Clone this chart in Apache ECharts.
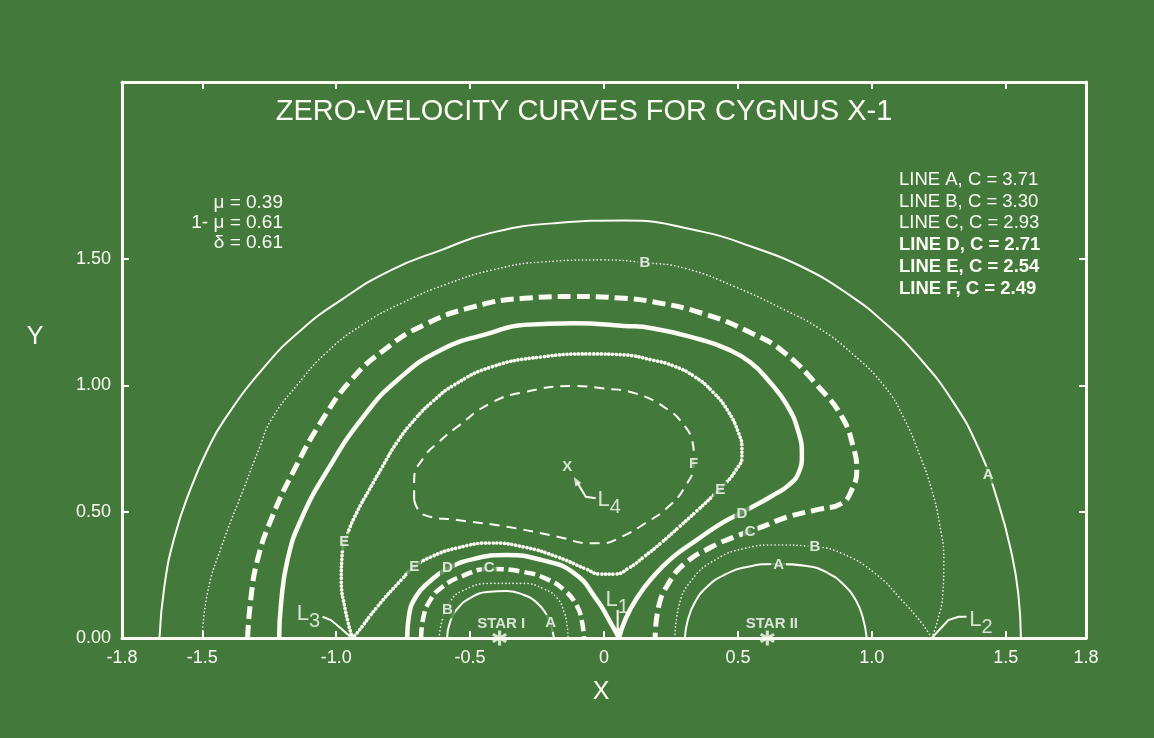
<!DOCTYPE html>
<html>
<head>
<meta charset="utf-8">
<title>Zero-velocity curves for Cygnus X-1</title>
<script src="https://cdn.jsdelivr.net/npm/echarts@6/dist/echarts.min.js"></script>
<style>
html, body { margin: 0; padding: 0; background: #437a3b; }
#main { width: 1154px; height: 738px; }
</style>
</head>
<body>
<div id="main"></div>
<script>
// tick values
var xTickVals = [-1.5, -1.0, -0.5, 0, 0.5, 1.0, 1.5];
var xLabelVals = [-1.8, -1.5, -1.0, -0.5, 0, 0.5, 1.0, 1.5, 1.8];
var yTickVals = [0, 0.5, 1.0, 1.5];

// curves [x, y]
var lineA_outer = [[-1.660,0],[-1.642,0.202],[-1.604,0.400],[-1.541,0.598],[-1.481,0.744],[-1.418,0.863],[-1.269,1.072],[-1.131,1.219],[-0.981,1.338],[-0.795,1.456],[-0.608,1.535],[-0.422,1.603],[-0.175,1.642],[0.075,1.652],[0.366,1.608],[0.552,1.548],[0.739,1.469],[0.925,1.351],[1.050,1.245],[1.174,1.113],[1.299,0.942],[1.398,0.752],[1.473,0.533],[1.522,0.335],[1.547,0.177],[1.557,0]];
var lineA_star2 = [[0.302,0],[0.313,0.071],[0.340,0.142],[0.384,0.202],[0.448,0.249],[0.534,0.281],[0.646,0.293],[0.757,0.285],[0.836,0.257],[0.896,0.210],[0.940,0.150],[0.966,0.083],[0.981,0]];
var lineA_star1 = [[-0.586,0],[-0.575,0.063],[-0.545,0.119],[-0.500,0.158],[-0.437,0.182],[-0.362,0.186],[-0.299,0.170],[-0.250,0.139],[-0.216,0.095],[-0.198,0.051],[-0.187,0]];

var lineB_outer = [[-1.500,0],[-1.481,0.178],[-1.429,0.360],[-1.343,0.598],[-1.287,0.752],[-1.243,0.863],[-1.146,1.001],[-1.034,1.132],[-0.903,1.239],[-0.754,1.326],[-0.586,1.401],[-0.418,1.456],[-0.231,1.488],[-0.007,1.496],[0.153,1.485],[0.302,1.463],[0.489,1.390],[0.675,1.298],[0.802,1.226],[0.925,1.127],[1.049,0.994],[1.123,0.863],[1.179,0.724],[1.224,0.586],[1.254,0.447],[1.269,0.309],[1.265,0.170],[1.246,0.071],[1.224,0]];
var lineB_star2 = [[0.265,0],[0.279,0.124],[0.328,0.230],[0.415,0.309],[0.527,0.355],[0.639,0.368],[0.788,0.361],[0.888,0.335],[1.012,0.256],[1.112,0.150],[1.187,0.058],[1.224,0]];
var lineB_star1 = [[-0.616,0],[-0.604,0.071],[-0.578,0.139],[-0.530,0.186],[-0.422,0.216],[-0.299,0.216],[-0.224,0.194],[-0.175,0.158],[-0.149,0.103],[-0.138,0.051],[-0.134,0]];

var lineC_outer = [[-1.331,0],[-1.318,0.163],[-1.294,0.309],[-1.244,0.467],[-1.157,0.665],[-1.052,0.863],[-0.944,1.021],[-0.821,1.140],[-0.672,1.239],[-0.485,1.311],[-0.299,1.344],[-0.112,1.351],[0.075,1.344],[0.179,1.331],[0.366,1.285],[0.552,1.206],[0.676,1.127],[0.801,0.994],[0.888,0.876],[0.932,0.752],[0.944,0.665],[0.925,0.586],[0.888,0.533],[0.806,0.510],[0.689,0.480],[0.590,0.440],[0.490,0.401],[0.403,0.361],[0.303,0.296],[0.241,0.216],[0.204,0.124],[0.191,0]];
var lineC_star1 = [[-0.683,0],[-0.675,0.079],[-0.649,0.150],[-0.604,0.202],[-0.530,0.245],[-0.429,0.273],[-0.299,0.261],[-0.213,0.233],[-0.149,0.190],[-0.101,0.127],[-0.082,0.063],[-0.075,0]];

var lineD_outer = [[-1.213,0],[-1.206,0.137],[-1.182,0.309],[-1.132,0.467],[-1.032,0.665],[-0.896,0.879],[-0.771,1.021],[-0.609,1.140],[-0.423,1.207],[-0.299,1.239],[-0.112,1.245],[0.075,1.235],[0.179,1.226],[0.366,1.179],[0.459,1.144],[0.545,1.092],[0.619,1.013],[0.683,0.922],[0.724,0.823],[0.739,0.724],[0.728,0.657],[0.690,0.605],[0.627,0.562],[0.560,0.522],[0.496,0.487],[0.422,0.443],[0.347,0.388],[0.254,0.317],[0.179,0.237],[0.123,0.158],[0.082,0.079],[0.056,0]];
var lineD_star1 = [[-0.735,0],[-0.728,0.091],[-0.701,0.166],[-0.657,0.218],[-0.586,0.273],[-0.485,0.313],[-0.362,0.328],[-0.235,0.309],[-0.112,0.257],[-0.026,0.150],[0.015,0.079],[0.056,0]];

var lineE = [[-0.940,0],[-0.966,0.111],[-0.981,0.230],[-0.978,0.328],[-0.959,0.408],[-0.922,0.499],[-0.877,0.586],[-0.828,0.677],[-0.772,0.776],[-0.705,0.867],[-0.642,0.934],[-0.560,1.001],[-0.422,1.072],[-0.235,1.112],[-0.049,1.124],[0.075,1.120],[0.179,1.100],[0.261,1.076],[0.340,1.033],[0.407,0.973],[0.463,0.898],[0.503,0.810],[0.515,0.752],[0.515,0.716],[0.493,0.665],[0.455,0.613],[0.410,0.566],[0.347,0.503],[0.280,0.439],[0.213,0.376],[0.149,0.321],[0.093,0.277],[0.041,0.253],[-0.015,0.253],[-0.067,0.273],[-0.175,0.321],[-0.299,0.360],[-0.422,0.376],[-0.549,0.356],[-0.646,0.321],[-0.709,0.281],[-0.757,0.230],[-0.847,0.123],[-0.922,0.020],[-0.940,0]];
var lineF = [[-0.709,0.546],[-0.709,0.625],[-0.672,0.716],[-0.616,0.776],[-0.549,0.835],[-0.422,0.930],[-0.299,0.973],[-0.112,0.997],[-0.007,0.988],[0.117,0.968],[0.241,0.902],[0.303,0.836],[0.328,0.784],[0.335,0.731],[0.335,0.691],[0.303,0.599],[0.241,0.520],[0.154,0.454],[0.067,0.401],[-0.007,0.375],[-0.050,0.375],[-0.174,0.401],[-0.361,0.440],[-0.547,0.467],[-0.672,0.487],[-0.709,0.546]];

// letters written along the curves [x, y, letter]
var curveTags = [[1.435,0.645,'A'],[0.652,0.289,'A'],[-0.199,0.058,'A'],
  [0.153,1.485,'B'],[0.788,0.361,'B'],[-0.585,0.111,'B'],
  [0.546,0.421,'C'],[-0.429,0.276,'C'],
  [0.515,0.493,'D'],[-0.585,0.276,'D'],
  [0.434,0.586,'E'],[-0.970,0.381,'E'],[-0.709,0.282,'E'],
  [0.335,0.691,'F'],[-0.137,0.678,'X']];

var stars = [[-0.39,0],[0.61,0]];
var starNames = [[-0.384,0.055,'STAR I'],[0.627,0.055,'STAR II']];
var lagrangeNames = [[0.049,0.150,'1'],[1.408,0.071,'2'],[-1.104,0.095,'3'],[0.019,0.546,'4']];
var leaders = [
  [[0.051,0.111],[0.051,0.020]],
  [[-1.051,0.084],[-1.020,0.071],[-0.982,0.038],[-0.947,0.005]],
  [[-0.031,0.553],[-0.068,0.559],[-0.100,0.615]],
  [[1.224,0],[1.286,0.071],[1.324,0.084],[1.354,0.084]]
];
// arrow heads [x, y, rotation in degrees]
var arrowTips = [[0.051,0.022,180],[-0.104,0.622,30]];

var paramLines = ['\u03bc = 0.39', '1- \u03bc = 0.61', '\u03b4 = 0.61'];
var keyLines = ['LINE A, C = 3.71', 'LINE B, C = 3.30', 'LINE C, C = 2.93', 'LINE D, C = 2.71', 'LINE E, C = 2.54', 'LINE F, C = 2.49'];
var keyBold = [false, false, false, true, true, true];

var BG = '#437a3b', FG = '#fbfbf4';
var FONT = '"Liberation Sans", Arial, Helvetica, sans-serif';

var chart = echarts.init(document.getElementById('main'));

function curve(data, width, dash, cap) {
	return {
		type: 'line', data: data, symbol: 'none', showSymbol: false, smooth: 0.5,
		silent: true, clip: false, xAxisIndex: 0, yAxisIndex: 0,
		lineStyle: { color: FG, width: width, type: dash, cap: cap || 'butt', join: 'round' }
	};
}

function frameAxis(pos, min, max, ticks, labels, fmt) {
	return {
		type: 'value', position: pos, min: min, max: max,
		axisLine: { show: true, onZero: false, lineStyle: { color: FG, width: 3 } },
		axisTick: { show: true, inside: true, length: 7, customValues: ticks, lineStyle: { color: FG, width: 2 } },
		axisLabel: labels ? { show: true, customValues: labels, formatter: fmt, color: FG, fontSize: 18, fontFamily: FONT, margin: 11 } : { show: false },
		splitLine: { show: false }
	};
}

function txt(x, y, s, font, align) {
	return { type: 'text', x: x, y: y, style: { text: s, fill: FG, font: font, textAlign: align, textVerticalAlign: 'middle', align: align, verticalAlign: 'middle' } };
}

var graphics = [];
graphics.push(txt(584, 112, 'ZERO-VELOCITY CURVES FOR CYGNUS X-1', '29px ' + FONT, 'center'));
for (var i = 0; i < paramLines.length; i++) {
	graphics.push(txt(283, 203 + i * 20, paramLines[i], '19px ' + FONT, 'right'));
}
for (var k = 0; k < keyLines.length; k++) {
	graphics.push(txt(899, 180 + k * 21.7, keyLines[k], (keyBold[k] ? 'bold ' : '') + '18.5px ' + FONT, 'left'));
}
graphics.push(txt(35, 337, 'Y', '25px ' + FONT, 'center'));
graphics.push(txt(601, 692, 'X', '25px ' + FONT, 'center'));

var option = {
	backgroundColor: BG,
	animation: false,
	grid: { left: 122, right: 68, top: 82, bottom: 100 },
	xAxis: [
		frameAxis('bottom', -1.8, 1.8, xTickVals, xLabelVals, function (v) { return v === 0 ? '0' : v.toFixed(1); }),
		frameAxis('top', -1.8, 1.8, xTickVals, null)
	],
	yAxis: [
		frameAxis('left', 0, 2.2, yTickVals, yTickVals, function (v) { return v.toFixed(2); }),
		frameAxis('right', 0, 2.2, yTickVals, null)
	],
	graphic: graphics,
	series: [
		curve(lineA_outer, 2, 'solid'),
		curve(lineA_star2, 2, 'solid'),
		curve(lineA_star1, 2, 'solid'),
		curve(lineB_outer, 1.6, [0.1, 3.6], 'round'),
		curve(lineB_star2, 1.6, [0.1, 3.6], 'round'),
		curve(lineB_star1, 1.6, [0.1, 3.6], 'round'),
		curve(lineC_outer, 5, [13, 6]),
		curve(lineC_star1, 4.5, [11, 5]),
		curve(lineD_outer, 4.5, 'solid'),
		curve(lineD_star1, 4.5, 'solid'),
		curve(lineE, 3.7, [0.1, 3.7], 'round'),
		curve(lineF, 2, [10, 7]),
		{
			type: 'lines', coordinateSystem: 'cartesian2d', polyline: true, silent: true,
			lineStyle: { color: FG, width: 2, opacity: 1 },
			data: leaders.map(function (c) { return { coords: c }; })
		},
		{
			type: 'scatter', silent: true, clip: false, z: 5, symbol: 'triangle', symbolSize: [7, 9],
			itemStyle: { color: FG },
			data: arrowTips.map(function (a) { return { value: [a[0], a[1]], symbolRotate: a[2] }; })
		},
		{
			type: 'scatter', silent: true, clip: false, z: 5,
			symbol: 'path://M-1,-5L1,-5L1,5L-1,5Z M3.83,-3.366L4.83,-1.634L-3.83,3.366L-4.83,1.634Z M-4.83,-1.634L-3.83,-3.366L4.83,1.634L3.83,3.366Z',
			symbolSize: 15, itemStyle: { color: FG },
			data: stars
		},
		{
			type: 'scatter', silent: true, clip: false, z: 6, symbolSize: 0,
			data: curveTags,
			label: {
				show: true, position: 'inside', formatter: function (p) { return p.value[2]; },
				color: '#ffffff', fontWeight: 'bold', fontSize: 15, fontFamily: FONT,
				backgroundColor: BG, padding: [1, 2]
			}
		},
		{
			type: 'scatter', silent: true, clip: false, z: 6, symbolSize: 0,
			data: starNames,
			label: {
				show: true, position: 'inside', formatter: function (p) { return p.value[2]; },
				color: '#ffffff', fontWeight: 'bold', fontSize: 15, fontFamily: FONT
			}
		},
		{
			type: 'scatter', silent: true, clip: false, z: 6, symbolSize: 0,
			data: lagrangeNames,
			label: {
				show: true, position: 'inside', formatter: function (p) { return 'L{s|' + p.value[2] + '}'; },
				color: FG, fontSize: 22, fontFamily: FONT,
				rich: { s: { color: FG, fontSize: 20, fontFamily: FONT, padding: [14, 0, 0, 0] } }
			}
		}
	]
};
chart.setOption(option);
window.onresize = function () { chart.resize(); };
</script>
</body>
</html>
